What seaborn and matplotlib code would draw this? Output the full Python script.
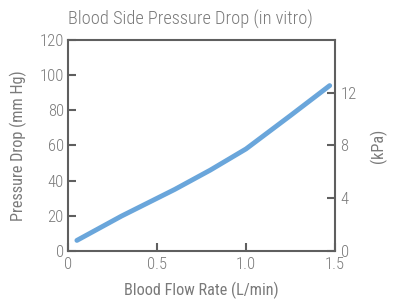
import matplotlib
matplotlib.use("Agg")
import matplotlib.pyplot as plt
import seaborn as sns
import pandas as pd

# valores
flow_rate = [0.05, 0.3, 0.6, 0.8, 1.0, 1.25, 1.47]
pressure_mmhg = [6, 19.8, 35, 46, 58, 77, 94]
x_ticks = [0, 0.5, 1.0, 1.5]
x_tick_labels = ["0", "0.5", "1.0", "1.5"]
y_ticks = [0, 20, 40, 60, 80, 100, 120]
kpa_ticks = [0, 4, 8, 12]

TEXT_GREY = "#7a7a7a"
SPINE_GREY = "#5f5f5f"
LINE_BLUE = "#6aa6db"

sns.set_style("ticks")
plt.rcParams["font.family"] = ["Roboto Condensed", "DejaVu Sans"]
plt.rcParams["font.weight"] = "light"

df = pd.DataFrame({"flow": flow_rate, "pressure": pressure_mmhg})

fig = plt.figure(figsize=(3.96, 3.02), dpi=100)
ax = fig.add_axes([0.1717, 0.169, 0.6743, 0.699])
sns.lineplot(data=df, x="flow", y="pressure", ax=ax, color=LINE_BLUE,
             linewidth=3.5, solid_capstyle="round")

ax.set_xlim(0, 1.5)
ax.set_ylim(0, 120)
ax.set_xticks(x_ticks)
ax.set_xticklabels(x_tick_labels)
ax.set_yticks(y_ticks)

ax2 = ax.twinx()
ax2.set_ylim(0, 120 * 0.133322)
ax2.set_yticks(kpa_ticks)

for a in (ax, ax2):
    for s in a.spines.values():
        s.set_visible(False)
    a.tick_params(direction="in", length=6, width=1.5, color=SPINE_GREY,
                  labelcolor=TEXT_GREY, labelsize=12, pad=3)

for s in (ax.spines["left"], ax.spines["bottom"], ax.spines["top"], ax2.spines["right"]):
    s.set_visible(True)
    s.set_color(SPINE_GREY)
    s.set_linewidth(1.5)
ax.tick_params(axis="x", pad=4)
ax2.tick_params(axis="y", pad=4)

ax.set_xlabel("Blood Flow Rate (L/min)", color=TEXT_GREY, fontsize=11.7, labelpad=7)
ax.set_ylabel("Pressure Drop (mm Hg)", color=TEXT_GREY, fontsize=11.7, labelpad=9)
ax2.set_ylabel("(kPa)", color=TEXT_GREY, fontsize=11.7, labelpad=9)
fig.text(0.482, 0.937, "Blood Side Pressure Drop (in vitro)", color=TEXT_GREY,
         fontsize=13.2, ha="center", va="center")

fig.savefig("out.png", dpi=100)
